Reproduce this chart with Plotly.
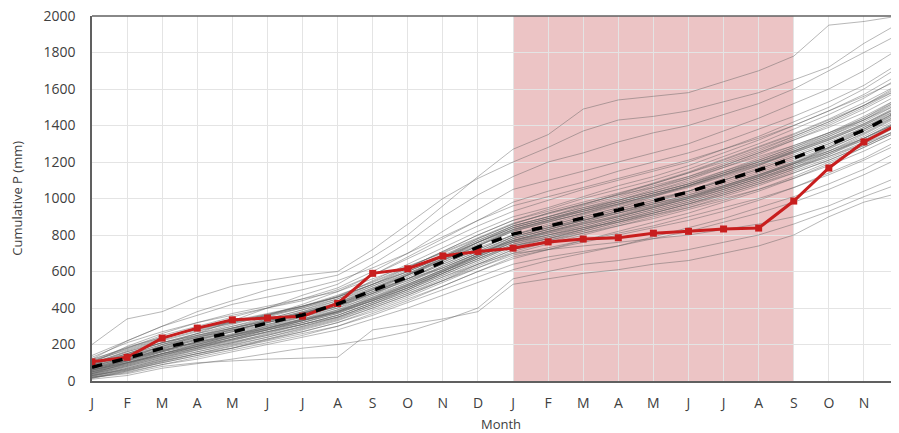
import plotly.graph_objects as go

month_labels = ["J","F","M","A","M","J","J","A","S","O","N","D",
                "J","F","M","A","M","J","J","A","S","O","N","D"]
x_idx = list(range(24))

observed = [105, 130, 235, 290, 335, 345, 355, 425, 590, 615, 685, 710,
            728, 762, 778, 785, 810, 820, 833, 838, 986, 1167, 1310, 1410]

ens_mean = [75, 125, 180, 225, 268, 318, 362, 422, 498, 570, 652, 734,
            805, 849, 893, 937, 986, 1036, 1096, 1156, 1222, 1293, 1375, 1474]

members = [
    [120,220,300,380,440,500,540,580,680,800,960,1120,1270,1350,1490,1540,1560,1580,1640,1700,1780,1950,1970,2000],
    [200,340,380,460,520,550,580,600,720,860,1000,1110,1200,1280,1370,1430,1450,1480,1530,1580,1650,1720,1850,1960],
    [60,110,200,260,330,400,470,530,640,760,900,1020,1120,1200,1250,1310,1360,1400,1460,1520,1600,1700,1800,1900],
    [20,40,80,100,110,120,125,130,280,310,340,380,530,560,590,610,640,660,700,740,800,900,980,1030],
    [10,30,70,95,120,150,180,200,230,270,330,400,560,600,640,660,690,720,760,800,860,930,1010,1080],
    [40,90,150,190,230,280,330,390,470,560,650,730,800,850,900,950,1000,1040,1100,1160,1230,1300,1390,1480],
    [90,150,210,260,300,340,390,440,520,600,680,760,840,890,940,980,1030,1080,1150,1220,1290,1360,1440,1540],
    [50,100,140,180,220,270,310,360,430,500,580,660,740,780,830,880,930,980,1040,1100,1170,1250,1330,1420],
    [110,170,230,290,330,370,410,470,540,620,710,800,880,930,980,1030,1080,1140,1200,1270,1340,1420,1510,1610],
    [30,70,120,160,200,240,290,340,410,480,550,620,690,730,770,810,850,900,950,1000,1060,1130,1210,1300],
    [70,130,190,250,300,350,400,460,550,640,730,820,900,950,1010,1070,1120,1180,1250,1320,1400,1480,1570,1680],
    [20,60,110,150,190,230,270,320,380,450,520,600,670,720,770,820,870,920,980,1040,1110,1180,1260,1350],
    [100,190,260,320,370,410,450,490,560,630,700,780,860,920,970,1020,1060,1110,1170,1230,1290,1360,1430,1520],
    [60,120,170,210,250,290,340,400,480,570,660,760,850,900,950,990,1040,1090,1150,1210,1280,1350,1440,1550],
    [80,140,200,240,280,320,370,420,500,560,620,700,770,820,860,900,950,1000,1060,1120,1190,1280,1370,1460],
    [40,80,130,180,230,280,320,380,460,540,630,710,790,840,880,930,970,1020,1070,1130,1200,1260,1330,1420],
    [130,210,270,320,360,400,440,500,580,670,760,850,930,990,1050,1100,1150,1200,1270,1340,1420,1500,1600,1720],
    [15,50,90,130,170,210,250,300,360,430,500,570,640,680,710,740,780,820,870,920,980,1050,1130,1220],
    [70,110,160,220,270,330,380,440,510,580,660,740,820,870,920,970,1020,1070,1130,1190,1250,1320,1400,1500],
    [50,110,180,230,280,320,360,410,470,540,620,700,780,830,880,920,970,1010,1070,1130,1190,1250,1320,1400],
    [90,160,220,270,320,360,420,490,580,680,780,880,980,1040,1090,1150,1200,1250,1310,1380,1450,1530,1620,1740],
    [25,65,110,150,180,220,260,300,370,440,520,600,680,720,760,800,840,880,930,990,1060,1140,1220,1320],
    [120,180,240,280,320,360,400,450,520,590,670,760,840,890,940,990,1040,1100,1170,1240,1320,1400,1490,1590],
    [35,85,140,190,240,290,340,390,450,520,600,680,760,800,840,870,910,950,1000,1050,1110,1190,1280,1370],
    [60,100,150,200,250,300,350,410,490,580,680,780,860,920,970,1020,1080,1140,1210,1280,1350,1430,1510,1600],
    [100,150,210,250,290,330,370,420,490,560,640,720,800,850,900,950,1010,1060,1120,1180,1260,1340,1430,1540],
    [45,95,150,200,250,300,340,380,440,510,590,670,750,790,830,880,920,970,1020,1080,1140,1210,1290,1380],
    [75,135,190,240,290,340,390,450,530,620,710,800,880,940,1000,1050,1100,1160,1230,1300,1380,1460,1550,1660],
    [30,60,100,140,180,230,280,330,400,470,550,640,720,770,810,850,890,940,990,1050,1120,1200,1280,1370],
    [85,150,210,260,310,360,410,460,530,600,680,770,850,900,960,1010,1070,1120,1180,1250,1320,1390,1470,1570],
    [55,115,165,215,255,295,335,375,445,525,605,685,765,815,865,905,955,1005,1065,1125,1195,1275,1355,1455],
    [140,220,300,360,420,460,500,550,620,700,790,880,960,1010,1060,1110,1160,1210,1270,1330,1400,1480,1560,1650],
    [20,45,90,120,160,200,240,280,340,400,470,540,610,660,700,740,790,840,890,950,1010,1080,1160,1260],
    [65,125,175,225,275,325,375,425,505,585,665,745,825,875,915,965,1015,1065,1125,1185,1255,1325,1405,1505],
    [95,165,225,275,315,355,405,465,545,625,705,785,865,915,965,1025,1085,1145,1215,1285,1355,1435,1525,1625],
    [40,100,160,200,240,280,320,370,440,520,600,680,760,800,840,890,940,990,1050,1110,1170,1230,1300,1380],
    [60,100,150,190,230,270,310,350,420,490,570,640,700,720,740,760,780,800,830,860,900,960,1040,1120],
    [110,180,250,300,350,400,450,510,600,700,820,940,1050,1100,1150,1200,1250,1300,1370,1440,1520,1600,1700,1820],
    [30,80,130,170,210,250,300,350,420,500,590,680,760,810,860,910,960,1010,1060,1120,1190,1270,1360,1460],
    [80,130,180,230,270,310,350,400,460,530,610,690,770,820,870,920,960,1010,1070,1130,1200,1280,1380,1480],
    [50,90,140,190,240,280,330,380,450,530,610,700,790,840,890,940,990,1040,1100,1160,1230,1300,1380,1470],
    [70,120,170,210,250,290,330,380,450,520,600,690,780,830,880,930,980,1040,1100,1170,1240,1310,1390,1490],
    [35,75,125,175,215,255,300,350,420,490,570,650,730,780,830,880,930,980,1040,1100,1170,1240,1330,1430],
    [90,140,190,240,280,320,370,430,510,590,670,750,830,880,930,980,1030,1080,1140,1200,1270,1340,1420,1520],
    [55,105,160,205,245,290,335,385,455,530,610,690,770,820,870,920,970,1020,1080,1140,1210,1280,1370,1470],
    [25,70,120,170,210,260,310,360,430,510,600,690,780,830,880,930,980,1030,1090,1150,1220,1290,1380,1480],
    [100,160,210,250,290,330,370,420,480,550,620,700,770,810,850,900,950,1000,1050,1110,1180,1250,1330,1420],
    [65,115,165,215,260,310,360,410,480,560,650,740,830,880,940,990,1050,1110,1180,1250,1330,1410,1500,1600],
    [45,95,145,185,225,270,320,370,440,510,590,670,740,780,820,870,920,970,1030,1090,1160,1240,1320,1420],
    [80,130,185,235,285,330,375,420,490,560,640,720,800,860,910,960,1010,1070,1130,1200,1270,1350,1430,1530],
    [15,55,105,150,195,240,285,335,400,470,550,630,710,760,810,860,910,960,1020,1080,1150,1220,1300,1400],
    [75,120,175,225,270,320,370,420,500,580,670,760,840,890,930,980,1030,1080,1140,1200,1260,1330,1410,1510],
    [105,175,235,285,325,365,410,460,530,600,680,760,830,880,930,970,1020,1070,1130,1190,1260,1330,1410,1500],
    [40,85,135,180,225,265,310,360,430,500,580,660,740,790,840,890,940,990,1050,1110,1180,1260,1350,1450],
    [60,110,165,210,255,305,355,410,480,550,630,710,790,840,890,940,990,1040,1110,1180,1250,1320,1400,1490],
    [30,65,115,160,205,250,295,345,410,480,560,640,720,770,820,870,920,970,1030,1090,1160,1230,1310,1400],
    [85,145,200,245,290,335,380,430,500,580,660,740,820,870,920,970,1020,1070,1140,1210,1280,1360,1450,1550],
    [50,100,150,195,240,285,330,375,440,510,590,670,750,800,850,900,950,1000,1060,1120,1190,1260,1340,1440],
    [115,185,240,285,325,365,410,460,530,610,690,770,850,900,950,1000,1060,1120,1190,1260,1340,1420,1510,1620],
    [20,55,100,140,180,225,270,320,390,460,540,620,700,750,800,850,900,950,1010,1070,1140,1210,1290,1380],
]

y_ticks = [0, 200, 400, 600, 800, 1000, 1200, 1400, 1600, 1800, 2000]
drought_start, drought_end = 12, 20

fig = go.Figure()

for m in members:
    fig.add_trace(go.Scatter(x=x_idx, y=m, mode="lines",
                             line=dict(color="rgba(95,95,95,0.45)", width=1),
                             showlegend=False, hoverinfo="skip"))

fig.add_trace(go.Scatter(x=x_idx, y=observed, mode="lines+markers",
                         line=dict(color="#c81e1e", width=3),
                         marker=dict(symbol="square", size=7, color="#c81e1e"),
                         showlegend=False))

fig.add_trace(go.Scatter(x=x_idx, y=ens_mean, mode="lines",
                         line=dict(color="black", width=3.5, dash="dash"),
                         showlegend=False))

fig.add_shape(type="rect", xref="x", yref="y",
              x0=drought_start, x1=drought_end, y0=0, y1=2000,
              fillcolor="rgb(236,196,197)", line=dict(width=0), layer="below")

# page body has an 8px margin, so the figure is offset by (8, 8)
fig.update_layout(
    width=891, height=425,
    margin=dict(l=84, r=0, t=8, b=52, autoexpand=False),
    plot_bgcolor="white", paper_bgcolor="white",
    font=dict(family="Open Sans, Segoe UI, sans-serif", size=14, color="#404040"),
)
fig.update_xaxes(range=[0, 23], tickmode="array", tickvals=x_idx, ticktext=month_labels,
                 showgrid=True, gridcolor="#e4e4e4", gridwidth=1, automargin=False,
                 ticklabeloverflow="allow",
                 showline=True, linecolor="#606060", linewidth=1.5, mirror=False,
                 zeroline=False, ticks="", ticklabelstandoff=8)
fig.update_yaxes(range=[0, 2000], tickmode="array", tickvals=y_ticks,
                 showgrid=True, gridcolor="#e4e4e4", gridwidth=1, automargin=False,
                 ticklabeloverflow="allow",
                 showline=True, linecolor="#606060", linewidth=1.5,
                 zeroline=False, ticks="", ticklabelstandoff=12)
fig.add_shape(type="line", xref="paper", yref="paper", x0=0, x1=1, y0=1, y1=1,
              line=dict(color="#606060", width=1.5))
fig.add_annotation(text="Month", xref="paper", yref="paper", x=0.5065, y=-0.118,
                   xanchor="center", yanchor="middle", showarrow=False,
                   font=dict(size=13, color="#404040"))
fig.add_annotation(text="Cumulative P (mm)", xref="paper", yref="paper", x=-0.094, y=0.5,
                   xanchor="center", yanchor="middle", textangle=-90, showarrow=False,
                   font=dict(size=13, color="#404040"))

fig.write_html("out.html")
